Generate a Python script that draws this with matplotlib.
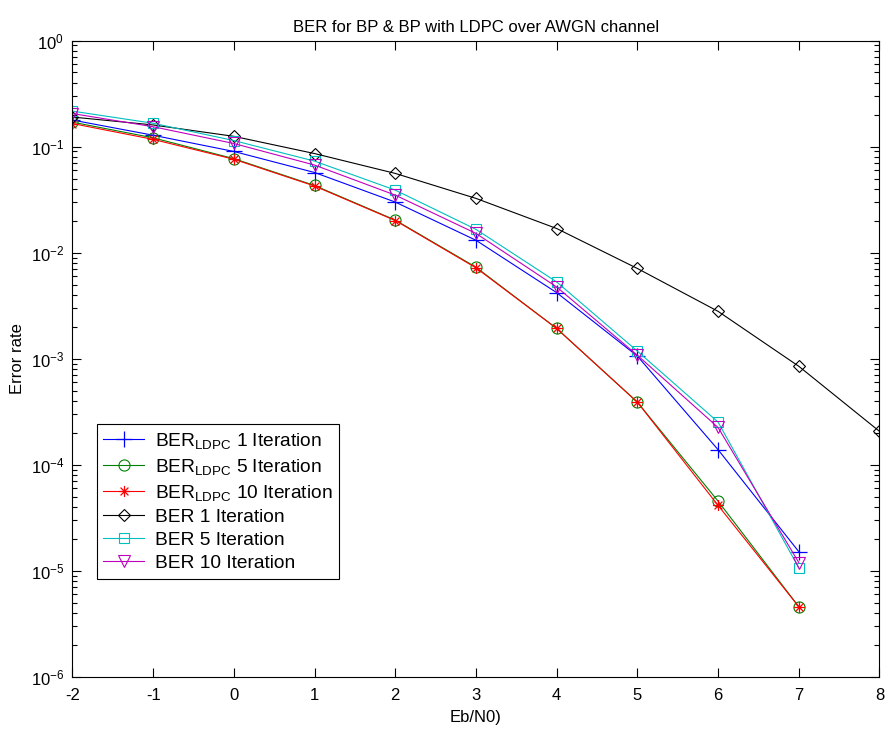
import matplotlib
matplotlib.use('Agg')
import matplotlib.pyplot as plt
from matplotlib.path import Path
import numpy as np

plt.rcParams['font.family'] = ['Liberation Sans', 'DejaVu Sans']
plt.rcParams['mathtext.fontset'] = 'custom'
plt.rcParams['mathtext.rm'] = 'Liberation Sans'
plt.rcParams['mathtext.it'] = 'Liberation Sans:italic'
plt.rcParams['axes.unicode_minus'] = False

# Eb/N0 (dB)
ebno = [-2, -1, 0, 1, 2, 3, 4, 5, 6, 7]
ebno_ber1 = [-2, -1, 0, 1, 2, 3, 4, 5, 6, 7, 8]

ldpc_1 = [0.178, 0.128, 0.090, 0.057, 0.030, 0.0131, 0.0042, 0.00106, 1.39e-4, 1.52e-5]
ldpc_5 = [0.170, 0.121, 0.077, 0.0430, 0.0203, 0.0073, 0.00193, 3.9e-4, 4.55e-5, 4.6e-6]
ldpc_10 = [0.165, 0.117, 0.076, 0.0425, 0.0201, 0.0072, 0.00193, 3.9e-4, 4.15e-5, 4.6e-6]
ber_1 = [0.190, 0.160, 0.125, 0.086, 0.0559, 0.0325, 0.0169, 0.0071, 0.0028, 8.5e-4, 2.07e-4]
ber_5 = [0.216, 0.166, 0.114, 0.073, 0.0389, 0.0166, 0.0053, 0.00118, 2.53e-4, 1.07e-5]
ber_10 = [0.205, 0.154, 0.107, 0.067, 0.0349, 0.0152, 0.00475, 0.00108, 2.25e-4, 1.2e-5]

# matlab style asterisk: + and x strokes
a = np.sqrt(0.5)
asterisk = Path([(-1, 0), (1, 0), (0, -1), (0, 1), (-a, -a), (a, a), (-a, a), (a, -a)],
                [Path.MOVETO, Path.LINETO] * 4)

fig = plt.figure(figsize=(8.88, 7.29), dpi=100)
ax = fig.add_axes([0.0816, 0.0713, 0.9088, 0.8731])

lw = 0.8
ax.semilogy(ebno, ldpc_1, 'b-+', lw=lw, ms=11, mew=0.9, label=r'BER$_{\mathrm{LDPC}}$ 1 Iteration')
ax.semilogy(ebno, ldpc_5, 'g-o', lw=lw, ms=8, mew=0.8, mfc='none', label=r'BER$_{\mathrm{LDPC}}$ 5 Iteration')
ax.semilogy(ebno, ldpc_10, 'r-', marker=asterisk, lw=lw, ms=8, mew=0.9, mfc='none',
            label=r'BER$_{\mathrm{LDPC}}$ 10 Iteration')
ax.semilogy(ebno_ber1, ber_1, 'k-D', lw=lw, ms=6.5, mew=0.8, mfc='none', label='BER 1 Iteration')
ax.semilogy(ebno, ber_5, 'c-s', lw=lw, ms=7, mew=0.8, mfc='none', label='BER 5 Iteration')
ax.semilogy(ebno, ber_10, 'm-v', lw=lw, ms=8, mew=0.8, mfc='none', label='BER 10 Iteration')

ax.set_xlim(-2, 8)
ax.set_ylim(1e-6, 1)
ax.set_xticks(range(-2, 9))
ax.set_yticks([10.0**k for k in range(-6, 1)])
ax.tick_params(which='both', direction='in', top=True, right=True, labelsize=12)
ax.tick_params(which='major', length=6.5, width=0.8)
ax.tick_params(which='minor', length=3.5, width=0.8)
ax.tick_params(axis='x', which='minor', bottom=False, top=False)
ax.tick_params(axis='x', pad=8)
ax.tick_params(axis='y', pad=6)
for s in ax.spines.values():
    s.set_linewidth(0.8)

ax.set_title('BER for BP & BP with LDPC over AWGN channel', fontsize=12)
ax.set_xlabel('Eb/N0)', fontsize=12, labelpad=5)
ax.set_ylabel('Error rate', fontsize=12, labelpad=4)

leg = ax.legend(loc='upper left', bbox_to_anchor=(0.03, 0.397), fontsize=13.8,
                fancybox=False, edgecolor='black', framealpha=1,
                handlelength=2.1, labelspacing=0.3, borderpad=0.35, handletextpad=0.6,
                borderaxespad=0)
leg.get_frame().set_linewidth(0.8)

fig.savefig('out.png', dpi=100)
